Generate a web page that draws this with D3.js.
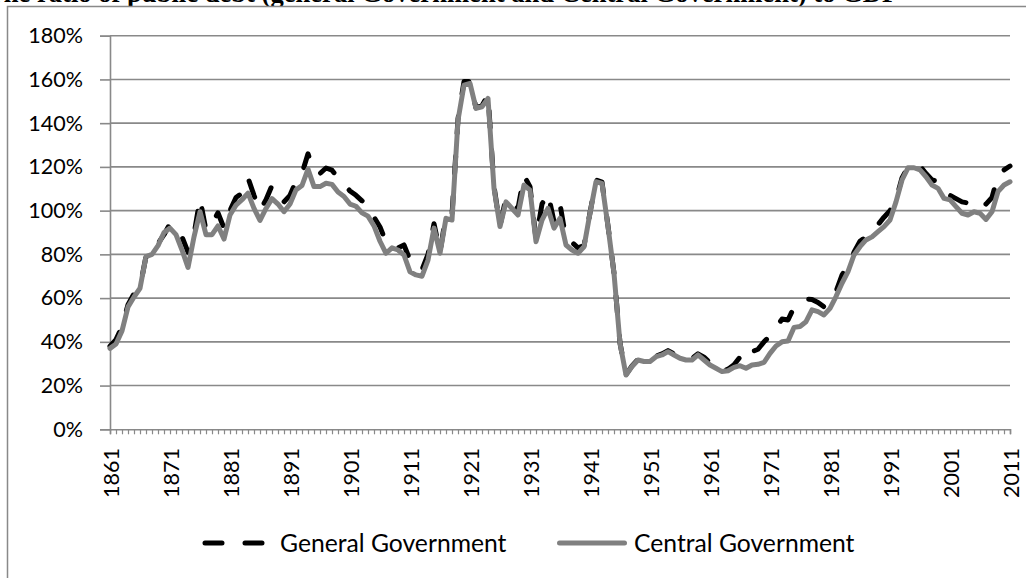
<!DOCTYPE html>
<html><head><meta charset="utf-8">
<script src="https://cdn.jsdelivr.net/npm/d3@7/dist/d3.min.js"></script>
<style>body{margin:0;background:#fff;overflow:hidden} svg{display:block}</style>
</head><body>
<svg id="c" width="1026" height="578"></svg>
<script>
// ---- data ----
const years = d3.range(1861, 2012);
const yTicks = [0, 20, 40, 60, 80, 100, 120, 140, 160, 180];
const xLabelYears = [1861, 1871, 1881, 1891, 1901, 1911, 1921, 1931, 1941, 1951, 1961, 1971, 1981, 1991, 2001, 2011];
const seriesNames = ["General Government", "Central Government"];
const titleText = "The ratio of public debt (general Government and Central Government) to GDP";

const generalGov = [
 38,41,47,57,62,65,79,80,85,89,
 94,91,88,81,89,105.5,91,94,99,92,
 100,106,108,115,107,100,105,111.5,108,104,
 107,113.5,117,126,118,117,119.5,118.5,115,112,
 109,107,104.5,103,97,92.5,85.8,84,83,84.3,
 77.4,74,73,80,94,81,98,98,142,159,
 159,147,148,153,111,93,106,104,101,116,
 111,87,103,108,95,103,87,85.5,83,84,
 99,114,113,93,71.5,39.5,25,29,32,31.5,
 31.5,33.5,34.5,36,34.5,33,32,32.5,34.5,33,
 30.5,28.5,26.5,27.5,29.5,33,31,35.5,36.6,40,
 42.7,46.5,50.4,50,55.8,57,59.5,59.4,58,56,
 58,63,70.5,75,81,86,88,90,93.6,97,
 100,105,115,120,120,120.4,117,114,113.5,110,
 107,105.5,104,103.5,105.5,105,103,106,116,118.6,
 120.4
];
const centralGov = [
 37,39,45,56,60.5,64.5,79,80,84,90,
 92,89,82,74,88,99.5,89,89,93,87,
 98,102.5,105,108,101,95.5,101,105.5,103,99.5,
 103,109.5,111.5,119,111,111,112.5,112,108.5,106.5,
 103,102,99,97.5,93,86,80.5,83,82,79.7,
 72,70.6,70,77.4,92,80.5,96.5,95.7,141.4,157.4,
 158.2,146.8,147.5,151.3,110.2,92.7,104,101,98,111.7,
 109.4,85.8,95.7,101,92,96.5,84.3,82,80.5,83.5,
 98.8,113.2,112.5,92.7,71.3,39.3,24.8,28.7,31.7,31,
 31,33.2,34,35.5,34,32.5,31.7,31.7,34,31.7,
 29.4,27.9,26.4,26.8,28.3,29.1,27.9,29.4,29.7,30.6,
 34.7,38.1,40,40.4,46.6,47,49.2,54.6,53.8,52.3,
 55.3,60.7,66.8,72.1,79.7,83.5,86.6,88,90.4,92.7,
 95.7,104,114,119.6,119.6,118.6,115.5,111.7,110.2,105.6,
 104.9,101.8,98.8,98,99.5,98.8,96,99.5,108.7,111.7,
 113.2
];

// ---- layout ----
const svg = d3.select("#c");
const L = 110, R = 1010, T = 35.7, B = 429.3;
const FONT = "Lato, 'Open Sans', sans-serif";
const FS_AX = 21.5, FS_LEG = 24.7;
const gridCol = "#898989";

const x = d3.scaleLinear().domain([1861, 2011]).range([L, R]);
const y = d3.scaleLinear().domain([0, 180]).range([B, T]);

// title (mostly cut off at top, as in the reference)
svg.append("text").attr("x", -14).attr("y", 1.5)
  .attr("font-family", "'Liberation Serif', 'Times New Roman', serif")
  .attr("font-weight", "bold").attr("font-size", 26.6).attr("fill", "#000")
  .text(titleText);

// outer border
svg.append("rect").attr("x", 7.5).attr("y", 6.5).attr("width", 1040).attr("height", 600)
  .attr("fill", "#fff").attr("stroke", gridCol).attr("stroke-width", 1.5);

// gridlines
svg.append("g").selectAll("line").data(yTicks.filter(d => d > 0)).join("line")
  .attr("x1", L).attr("x2", R).attr("y1", d => y(d)).attr("y2", d => y(d))
  .attr("stroke", gridCol).attr("stroke-width", 1.6);

// y axis
const yAxis = d3.axisLeft(y).tickValues(yTicks).tickSize(10).tickPadding(17)
  .tickFormat(d => d + "%");
const gy = svg.append("g").attr("transform", `translate(${L},0)`).call(yAxis);
gy.select(".domain").attr("stroke", gridCol).attr("stroke-width", 1.6);
gy.selectAll(".tick line").attr("stroke", gridCol).attr("stroke-width", 1.6);
gy.selectAll(".tick text").attr("font-family", FONT).attr("font-size", FS_AX).attr("fill", "#000");

// x axis
const xAxis = d3.axisBottom(x).tickValues(years).tickSize(5).tickFormat("");
const gx = svg.append("g").attr("transform", `translate(0,${B})`).call(xAxis);
gx.select(".domain").attr("stroke", gridCol).attr("stroke-width", 1.6);
gx.selectAll(".tick line").attr("stroke", gridCol).attr("stroke-width", 1.2);

svg.append("g").selectAll("text").data(xLabelYears).join("text")
  .attr("transform", d => `translate(${x(d) + 1},448) rotate(-90)`)
  .attr("text-anchor", "end").attr("dy", "0.35em")
  .attr("font-family", FONT).attr("font-size", FS_AX).attr("fill", "#000")
  .text(d => d);

// lines
const line = d3.line().x((d, i) => x(years[i])).y(d => y(d));
svg.append("path").datum(generalGov).attr("d", line)
  .attr("fill", "none").attr("stroke", "#000").attr("stroke-width", 5)
  .attr("stroke-dasharray", "17 23").attr("stroke-linecap", "round").attr("stroke-linejoin", "round");
svg.append("path").datum(centralGov).attr("d", line)
  .attr("fill", "none").attr("stroke", "#808080").attr("stroke-width", 5)
  .attr("stroke-linecap", "round").attr("stroke-linejoin", "round");

// legend
const ly = 543;
svg.append("line").attr("x1", 205).attr("x2", 263).attr("y1", ly).attr("y2", ly)
  .attr("stroke", "#000").attr("stroke-width", 5).attr("stroke-dasharray", "17 23").attr("stroke-linecap", "round");
svg.append("text").attr("x", 280).attr("y", ly).attr("dy", "0.35em")
  .attr("font-family", FONT).attr("font-size", FS_LEG).attr("fill", "#000").text(seriesNames[0]);
svg.append("line").attr("x1", 559.5).attr("x2", 624.5).attr("y1", ly).attr("y2", ly)
  .attr("stroke", "#808080").attr("stroke-width", 5).attr("stroke-linecap", "round");
svg.append("text").attr("x", 634).attr("y", ly).attr("dy", "0.35em")
  .attr("font-family", FONT).attr("font-size", FS_LEG).attr("fill", "#000").text(seriesNames[1]);
</script>
</body></html>
